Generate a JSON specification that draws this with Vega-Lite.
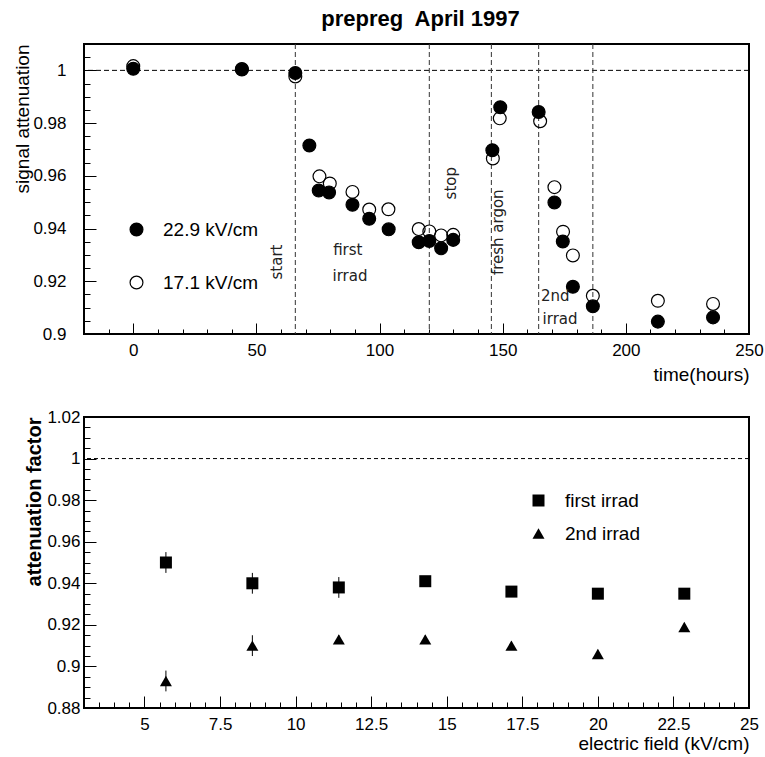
{
  "$schema": "https://vega.github.io/schema/vega-lite/v6.json",
  "background": "white",
  "padding": {"left": 12, "top": 6, "right": 5, "bottom": 5},
  "spacing": 83,
  "bounds": "flush",
  "config": {
    "font": "Liberation Sans",
    "view": {"stroke": "black", "strokeWidth": 2},
    "axis": {"labelColor": "black", "titleColor": "black", "tickColor": "black", "labelFont": "Liberation Sans", "titleFont": "Liberation Sans", "grid": false, "domain": false, "labelFontSize": 17, "titleFontSize": 19, "titleFontWeight": "normal", "labelFlush": false, "labelOverlap": false, "tickWidth": 1},
    "legend": {"labelFont": "Liberation Sans", "labelFontSize": 19, "labelColor": "black", "padding": 0, "symbolOffset": 0}
  },
  "vconcat": [
    {
      "width": 665,
      "height": 290,
      "title": {"text": "prepreg\u00a0 April 1997", "fontSize": 22, "fontWeight": "bold", "font": "Liberation Sans", "anchor": "middle", "frame": "group", "baseline": "alphabetic", "offset": -4, "dx": 4, "color": "black"},
      "resolve": {"axis": {"x": "independent", "y": "independent"}},
      "layer": [
        {
          "data": {"values": [{"v": 1}]},
          "mark": {"type": "rule", "strokeDash": [5, 3], "strokeWidth": 1, "color": "black"},
          "encoding": {
            "y": {"field": "v", "type": "quantitative", "scale": {"domain": [0.9, 1.01], "nice": false, "zero": false},
              "axis": {"orient": "left", "values": [0.9, 0.905, 0.91, 0.915, 0.92, 0.925, 0.93, 0.935, 0.94, 0.945, 0.95, 0.955, 0.96, 0.965, 0.97, 0.975, 0.98, 0.985, 0.99, 0.995, 1, 1.005], "labels": false, "tickSize": -6, "title": null}}
          }
        },
        {
          "data": {"values": [{"t": 65.8}, {"t": 120.2}, {"t": 145.4}, {"t": 164.6}, {"t": 186.6}]},
          "mark": {"type": "rule", "strokeDash": [5, 3], "strokeWidth": 1, "color": "#333"},
          "encoding": {
            "x": {"field": "t", "type": "quantitative", "scale": {"domain": [-20, 250], "nice": false, "zero": false},
              "axis": {"orient": "bottom", "values": [-10, 0, 10, 20, 30, 40, 50, 60, 70, 80, 90, 100, 110, 120, 130, 140, 150, 160, 170, 180, 190, 200, 210, 220, 230, 240], "labels": false, "tickSize": -5, "title": null}}
          }
        },
        {
          "data": {"values": [
            {"t": 0, "v": 1.0016, "series": "17.1 kV/cm"},
            {"t": 44.1, "v": 1.0005, "series": "17.1 kV/cm"},
            {"t": 65.8, "v": 0.9977, "series": "17.1 kV/cm"},
            {"t": 75.6, "v": 0.9598, "series": "17.1 kV/cm"},
            {"t": 79.8, "v": 0.9571, "series": "17.1 kV/cm"},
            {"t": 89, "v": 0.9539, "series": "17.1 kV/cm"},
            {"t": 95.8, "v": 0.9472, "series": "17.1 kV/cm"},
            {"t": 103.6, "v": 0.9473, "series": "17.1 kV/cm"},
            {"t": 115.9, "v": 0.9398, "series": "17.1 kV/cm"},
            {"t": 120.2, "v": 0.9389, "series": "17.1 kV/cm"},
            {"t": 125, "v": 0.9374, "series": "17.1 kV/cm"},
            {"t": 129.9, "v": 0.9376, "series": "17.1 kV/cm"},
            {"t": 146, "v": 0.9666, "series": "17.1 kV/cm"},
            {"t": 148.8, "v": 0.9818, "series": "17.1 kV/cm"},
            {"t": 165.2, "v": 0.9807, "series": "17.1 kV/cm"},
            {"t": 171, "v": 0.9557, "series": "17.1 kV/cm"},
            {"t": 174.5, "v": 0.9388, "series": "17.1 kV/cm"},
            {"t": 178.5, "v": 0.9298, "series": "17.1 kV/cm"},
            {"t": 186.6, "v": 0.9145, "series": "17.1 kV/cm"},
            {"t": 213, "v": 0.9126, "series": "17.1 kV/cm"},
            {"t": 235.4, "v": 0.9114, "series": "17.1 kV/cm"},
            {"t": 0, "v": 1.0006, "series": "22.9 kV/cm"},
            {"t": 44.1, "v": 1.0003, "series": "22.9 kV/cm"},
            {"t": 65.8, "v": 0.999, "series": "22.9 kV/cm"},
            {"t": 71.5, "v": 0.9715, "series": "22.9 kV/cm"},
            {"t": 75.3, "v": 0.9544, "series": "22.9 kV/cm"},
            {"t": 79.5, "v": 0.9537, "series": "22.9 kV/cm"},
            {"t": 89, "v": 0.949, "series": "22.9 kV/cm"},
            {"t": 95.8, "v": 0.9437, "series": "22.9 kV/cm"},
            {"t": 103.7, "v": 0.9397, "series": "22.9 kV/cm"},
            {"t": 115.9, "v": 0.9348, "series": "22.9 kV/cm"},
            {"t": 120.2, "v": 0.9353, "series": "22.9 kV/cm"},
            {"t": 125, "v": 0.9325, "series": "22.9 kV/cm"},
            {"t": 129.9, "v": 0.9357, "series": "22.9 kV/cm"},
            {"t": 145.8, "v": 0.9697, "series": "22.9 kV/cm"},
            {"t": 149, "v": 0.986, "series": "22.9 kV/cm"},
            {"t": 164.6, "v": 0.9842, "series": "22.9 kV/cm"},
            {"t": 171, "v": 0.9499, "series": "22.9 kV/cm"},
            {"t": 174.4, "v": 0.9351, "series": "22.9 kV/cm"},
            {"t": 178.5, "v": 0.9179, "series": "22.9 kV/cm"},
            {"t": 186.6, "v": 0.9105, "series": "22.9 kV/cm"},
            {"t": 213, "v": 0.9047, "series": "22.9 kV/cm"},
            {"t": 235.4, "v": 0.9063, "series": "22.9 kV/cm"}
          ]},
          "mark": {"type": "point", "shape": "circle", "filled": true, "stroke": "black", "strokeWidth": 1.2, "size": 165, "opacity": 1},
          "encoding": {
            "x": {"field": "t", "type": "quantitative", "scale": {"domain": [-20, 250], "nice": false, "zero": false},
              "axis": {"orient": "bottom", "values": [0, 50, 100, 150, 200, 250], "labelExpr": "'' + datum.value", "tickSize": -11, "labelPadding": 27, "labelBaseline": "middle", "title": "time(hours)", "titleAnchor": "end", "titleAlign": "right", "titleX": 665, "titleY": 40, "titleBaseline": "middle"}},
            "y": {"field": "v", "type": "quantitative", "scale": {"domain": [0.9, 1.01], "nice": false, "zero": false},
              "axis": {"orient": "left", "values": [0.9, 0.92, 0.94, 0.96, 0.98, 1], "labelExpr": "'' + datum.value", "tickSize": -12, "labelPadding": 30, "labelBaseline": "middle", "title": "signal attenuation", "titleAngle": 270, "titleX": -62, "titleY": 0, "titleAlign": "right", "titleBaseline": "middle"}},
            "fill": {"field": "series", "type": "nominal", "sort": null,
              "scale": {"domain": ["22.9 kV/cm", "17.1 kV/cm"], "range": ["black", "transparent"]},
              "legend": {"orient": "none", "legendX": 43, "legendY": 176, "title": null, "direction": "vertical", "rowPadding": 33, "symbolType": "circle", "symbolSize": 165, "symbolStrokeColor": "black", "symbolStrokeWidth": 1.2, "labelOffset": 17}}
          }
        },
        {
          "data": {"values": [
            {"t": 87.1, "v": 0.9318, "label": "first"},
            {"t": 88, "v": 0.922, "label": "irrad"},
            {"t": 171.3, "v": 0.9144, "label": "2nd"},
            {"t": 173.3, "v": 0.9057, "label": "irrad"}
          ]},
          "mark": {"type": "text", "font": "DejaVu Sans", "fontSize": 15, "color": "#222", "align": "center", "baseline": "middle"},
          "encoding": {
            "x": {"field": "t", "type": "quantitative", "scale": {"domain": [-20, 250], "nice": false, "zero": false}, "axis": null},
            "y": {"field": "v", "type": "quantitative", "scale": {"domain": [0.9, 1.01], "nice": false, "zero": false}, "axis": null},
            "text": {"field": "label", "type": "nominal"}
          }
        },
        {
          "data": {"values": [
            {"t": 58.3, "v": 0.9273, "label": "start"},
            {"t": 129, "v": 0.9572, "label": "stop"},
            {"t": 147.9, "v": 0.9386, "label": "fresh argon"}
          ]},
          "mark": {"type": "text", "font": "DejaVu Sans", "fontSize": 15, "color": "#222", "align": "center", "baseline": "middle", "angle": 270},
          "encoding": {
            "x": {"field": "t", "type": "quantitative", "scale": {"domain": [-20, 250], "nice": false, "zero": false}, "axis": null},
            "y": {"field": "v", "type": "quantitative", "scale": {"domain": [0.9, 1.01], "nice": false, "zero": false}, "axis": null},
            "text": {"field": "label", "type": "nominal"}
          }
        }
      ]
    },
    {
      "width": 665,
      "height": 291,
      "resolve": {"axis": {"x": "independent", "y": "independent"}},
      "layer": [
        {
          "data": {"values": [{"v": 1}]},
          "mark": {"type": "rule", "strokeDash": [4, 3], "strokeWidth": 1, "color": "black"},
          "encoding": {
            "y": {"field": "v", "type": "quantitative", "scale": {"domain": [0.88, 1.02], "nice": false, "zero": false},
              "axis": {"orient": "left", "values": [0.885, 0.89, 0.895, 0.9, 0.905, 0.91, 0.915, 0.92, 0.925, 0.93, 0.935, 0.94, 0.945, 0.95, 0.955, 0.96, 0.965, 0.97, 0.975, 0.98, 0.985, 0.99, 0.995, 1, 1.005, 1.01, 1.015], "labels": false, "tickSize": -6, "title": null}}
          }
        },
        {
          "data": {"name": "att"},
          "mark": {"type": "rule", "strokeWidth": 1, "color": "black"},
          "encoding": {
            "x": {"field": "field", "type": "quantitative", "scale": {"domain": [3, 25], "nice": false, "zero": false},
              "axis": {"orient": "bottom", "values": [3.5, 4, 4.5, 5, 5.5, 6, 6.5, 7, 7.5, 8, 8.5, 9, 9.5, 10, 10.5, 11, 11.5, 12, 12.5, 13, 13.5, 14, 14.5, 15, 15.5, 16, 16.5, 17, 17.5, 18, 18.5, 19, 19.5, 20, 20.5, 21, 21.5, 22, 22.5, 23, 23.5, 24, 24.5], "labels": false, "tickSize": -6, "title": null}},
            "y": {"field": "lo", "type": "quantitative", "scale": {"domain": [0.88, 1.02], "nice": false, "zero": false}, "axis": null},
            "y2": {"field": "hi"}
          }
        },
        {
          "data": {"name": "att"},
          "mark": {"type": "point", "filled": true, "color": "black", "size": 144, "opacity": 1},
          "encoding": {
            "x": {"field": "field", "type": "quantitative", "scale": {"domain": [3, 25], "nice": false, "zero": false},
              "axis": {"orient": "bottom", "values": [5, 7.5, 10, 12.5, 15, 17.5, 20, 22.5, 25], "labelExpr": "'' + datum.value", "tickSize": -12, "labelPadding": 28, "labelBaseline": "middle", "title": "electric field (kV/cm)", "titleAnchor": "end", "titleAlign": "right", "titleX": 665, "titleY": 35, "titleBaseline": "middle"}},
            "y": {"field": "att", "type": "quantitative", "scale": {"domain": [0.88, 1.02], "nice": false, "zero": false},
              "axis": {"orient": "left", "values": [0.88, 0.9, 0.92, 0.94, 0.96, 0.98, 1, 1.02], "labelExpr": "'' + datum.value", "tickSize": -12, "labelPadding": 16, "labelBaseline": "middle", "title": "attenuation factor", "titleFontWeight": "bold", "titleFontSize": 20, "titleAngle": 270, "titleX": -50, "titleY": 0, "titleAlign": "right", "titleBaseline": "middle"}},
            "shape": {"field": "series", "type": "nominal", "sort": null,
              "scale": {"domain": ["first irrad", "2nd irrad"], "range": ["square", "triangle-up"]},
              "legend": {"orient": "none", "legendX": 445, "legendY": 447, "title": null, "direction": "vertical", "rowPadding": 13, "symbolSize": 144, "symbolFillColor": "black", "symbolStrokeColor": "black", "labelOffset": 17}}
          }
        }
      ]
    }
  ],
  "datasets": {
    "att": [
      {"field": 5.71, "att": 0.950, "lo": 0.945, "hi": 0.955, "series": "first irrad"},
      {"field": 8.57, "att": 0.940, "lo": 0.935, "hi": 0.945, "series": "first irrad"},
      {"field": 11.43, "att": 0.938, "lo": 0.933, "hi": 0.943, "series": "first irrad"},
      {"field": 14.29, "att": 0.941, "lo": 0.939, "hi": 0.943, "series": "first irrad"},
      {"field": 17.14, "att": 0.936, "lo": 0.934, "hi": 0.938, "series": "first irrad"},
      {"field": 20.0, "att": 0.935, "lo": 0.933, "hi": 0.937, "series": "first irrad"},
      {"field": 22.86, "att": 0.935, "lo": 0.933, "hi": 0.937, "series": "first irrad"},
      {"field": 5.71, "att": 0.893, "lo": 0.888, "hi": 0.898, "series": "2nd irrad"},
      {"field": 8.57, "att": 0.910, "lo": 0.905, "hi": 0.915, "series": "2nd irrad"},
      {"field": 11.43, "att": 0.913, "lo": 0.911, "hi": 0.915, "series": "2nd irrad"},
      {"field": 14.29, "att": 0.913, "lo": 0.911, "hi": 0.915, "series": "2nd irrad"},
      {"field": 17.14, "att": 0.910, "lo": 0.908, "hi": 0.912, "series": "2nd irrad"},
      {"field": 20.0, "att": 0.906, "lo": 0.904, "hi": 0.908, "series": "2nd irrad"},
      {"field": 22.86, "att": 0.919, "lo": 0.917, "hi": 0.921, "series": "2nd irrad"}
    ]
  }
}
